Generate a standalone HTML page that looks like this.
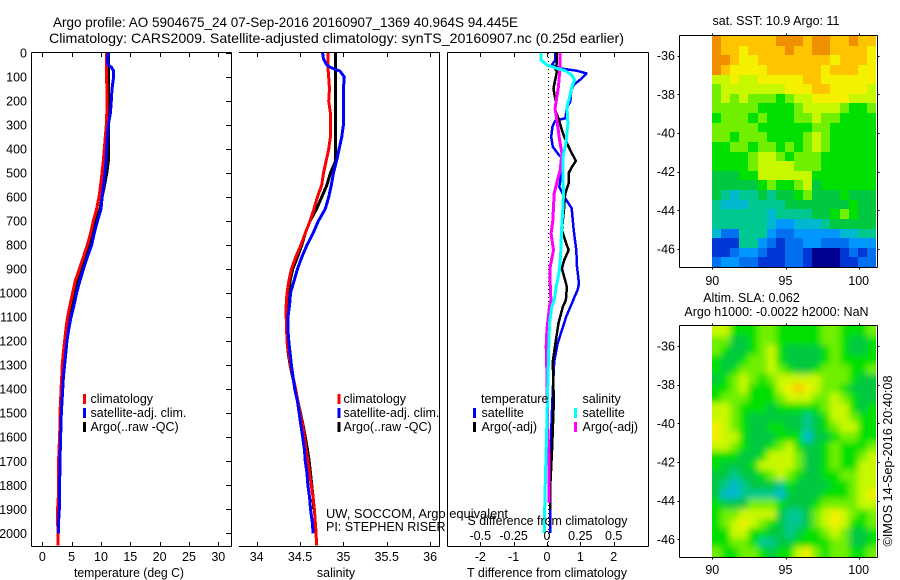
<!DOCTYPE html>
<html lang="en">
<head>
<meta charset="utf-8">
<title>Argo profile 5904675_24</title>
<style>
html,body{margin:0;padding:0;background:#fff;}
svg{display:block;}
text{font-family:"Liberation Sans",sans-serif;font-size:12.5px;fill:#000;}
.title{font-size:14px;}
</style>
</head>
<body>
<svg id="chart" xmlns="http://www.w3.org/2000/svg" width="900" height="580" viewBox="0 0 900 580">
  <defs>
    <clipPath id="clip-p1"><rect x="31" y="52" width="201" height="495"/></clipPath>
    <clipPath id="clip-p2"><rect x="239" y="52" width="201" height="495"/></clipPath>
    <clipPath id="clip-p3"><rect x="447" y="52" width="202" height="495"/></clipPath>
    <clipPath id="clip-sla"><rect x="712" y="326" width="164" height="231"/></clipPath>
    <filter id="sla-blur" filterUnits="userSpaceOnUse" x="660" y="280" width="270" height="330">
      <feGaussianBlur stdDeviation="3.2"/>
    </filter>
  </defs>
  <rect x="0" y="0" width="900" height="580" fill="#fff"/>
  <g id="heatmaps"></g>
  <g id="marks"></g>
  <g id="axes"></g>

  <text class="title" x="53" y="27" textLength="465" lengthAdjust="spacingAndGlyphs">Argo profile: AO 5904675_24 07-Sep-2016 20160907_1369 40.964S 94.445E</text>
  <text class="title" x="49" y="43" textLength="575" lengthAdjust="spacingAndGlyphs">Climatology: CARS2009. Satellite-adjusted climatology: synTS_20160907.nc (0.25d earlier)</text>

  <text x="74" y="577" textLength="110" lengthAdjust="spacingAndGlyphs">temperature (deg C)</text>
  <text x="336" y="577" text-anchor="middle">salinity</text>
  <text x="467" y="577" textLength="160" lengthAdjust="spacingAndGlyphs">T difference from climatology</text>
  <text x="467.5" y="525" textLength="160" lengthAdjust="spacingAndGlyphs">S difference from climatology</text>

  <g>
    <rect x="83" y="394" width="3" height="10" fill="#ff0000"/>
    <rect x="83" y="408" width="3" height="10" fill="#0000ff"/>
    <rect x="83" y="422" width="3" height="10" fill="#000000"/>
    <text x="90.5" y="403">climatology</text>
    <text x="90.5" y="417">satellite-adj. clim.</text>
    <text x="90.5" y="431">Argo(..raw -QC)</text>
  </g>
  <g>
    <rect x="337.5" y="394" width="3" height="10" fill="#ff0000"/>
    <rect x="337.5" y="408" width="3" height="10" fill="#0000ff"/>
    <rect x="337.5" y="422" width="3" height="10" fill="#000000"/>
    <text x="343.5" y="403">climatology</text>
    <text x="343.5" y="417">satellite-adj. clim.</text>
    <text x="343.5" y="431">Argo(..raw -QC)</text>
  </g>
  <g>
    <text x="481" y="403">temperature</text>
    <rect x="473" y="408" width="3" height="10" fill="#0000ff"/>
    <rect x="473" y="422" width="3" height="10" fill="#000000"/>
    <text x="481.5" y="417">satellite</text>
    <text x="481.5" y="431">Argo(-adj)</text>
    <text x="582.5" y="403">salinity</text>
    <rect x="574" y="408" width="3" height="10" fill="#00ffff"/>
    <rect x="574" y="422" width="3" height="10" fill="#ff00ff"/>
    <text x="582.5" y="417">satellite</text>
    <text x="582.5" y="431">Argo(-adj)</text>
  </g>

  <text x="326" y="518" textLength="182" lengthAdjust="spacingAndGlyphs">UW, SOCCOM, Argo equivalent</text>
  <text x="326" y="531">PI: STEPHEN RISER</text>

  <text x="776" y="25" text-anchor="middle">sat. SST: 10.9 Argo: 11</text>
  <text x="751.5" y="302" text-anchor="middle">Altim. SLA: 0.062</text>
  <text x="776.5" y="316" text-anchor="middle">Argo h1000: -0.0022 h2000: NaN</text>
  <text transform="translate(892,546.5) rotate(-90)" textLength="171" lengthAdjust="spacingAndGlyphs">©IMOS 14-Sep-2016 20:40:08</text>
</svg>

<script>
// ---------- profile data ----------
const depths = [0,25,50,60,75,100,150,200,250,300,350,400,450,500,550,600,650,700,750,800,850,900,950,1000,1050,1100,1150,1200,1250,1300,1350,1400,1450,1500,1550,1600,1650,1700,1750,1800,1850,1900,1950,2000,2050];

const tempArgo = [11.25,11.25,11.25,11.25,11.25,11.25,11.25,11.25,11.25,11.25,11.28,11.3,11.25,11,10.6,10.2,9.83,9.1,8.5,8,7.3,6.6,6,5.5,5.06,4.6,4.26,4.03,3.75,3.58,3.4,3.3,3.3,3.24,3.18,3.1,3,2.9,2.88,2.84,2.8,2.78];
const tempClim = [10.9,10.97,10.97,10.97,10.97,10.97,11,11,11,10.9,10.74,10.57,10.4,10.17,9.94,9.66,9.26,8.7,8.24,7.67,7,6.3,5.6,5.17,4.7,4.3,4.03,3.8,3.58,3.4,3.3,3.18,3.12,3,3,2.95,2.84,2.78,2.78,2.73,2.73,2.61,2.61,2.67,2.67];
const tempSat = [11.25,11.08,11.25,11.8,12.16,12.16,11.88,11.76,11.6,11.25,11.08,10.97,10.85,10.68,10.45,10.2,10,9.4,8.86,8.4,7.67,7,6.4,5.85,5.4,4.9,4.5,4.2,4,3.8,3.6,3.47,3.35,3.24,3.18,3.12,3.07,3,2.98,2.95,2.9,2.9,2.78,2.73];

const salArgo = [34.91,34.91,34.91,34.91,34.91,34.91,34.91,34.91,34.91,34.91,34.91,34.91,34.91,34.85,34.81,34.75,34.69,34.615,34.56,34.52,34.47,34.415,34.385,34.37,34.36,34.35,34.345,34.35,34.365,34.385,34.415,34.445,34.475,34.505,34.535,34.56,34.585,34.605,34.62,34.635,34.65,34.655];
const salClim = [34.82,34.82,34.82,34.82,34.825,34.83,34.84,34.83,34.85,34.85,34.85,34.83,34.8,34.77,34.75,34.7,34.66,34.615,34.56,34.51,34.45,34.4,34.37,34.35,34.34,34.34,34.345,34.35,34.37,34.39,34.42,34.45,34.475,34.5,34.53,34.55,34.57,34.59,34.61,34.63,34.65,34.665,34.675,34.685,34.69];
const salSat = [34.76,34.77,34.81,34.85,34.96,35.01,35,35,35,35,34.98,34.95,34.92,34.885,34.86,34.83,34.79,34.71,34.65,34.58,34.52,34.47,34.43,34.39,34.38,34.36,34.36,34.37,34.385,34.4,34.42,34.44,34.47,34.49,34.51,34.53,34.55,34.56,34.58,34.59,34.61,34.62,34.64,34.65];

const tSatDepths = [0,30,50,64,74,85,105,133,154,203,224,272,282,307,349,390,418,439,488,557,599,647,738,821,890,960,986,1014,1042,1097,1153,1208,1285,1403,1541,1680,1819,1999];
const tSatDiff = [0.245,0.245,0.145,0.4,0.9,1.18,1.05,0.8,0.73,0.7,0.6,0.55,0.245,0.165,0.125,0.175,0.32,0.45,0.45,0.37,0.52,0.74,0.8,0.88,0.9,0.96,0.92,0.83,0.75,0.58,0.45,0.32,0.215,0.175,0.135,0.105,0.095,0.095];

const tArgoDepths = [0,43,64,78,112,147,175,203,238,272,307,349,390,418,449,474,501,543,585,640,696,738,780,821,863,897,932,974,1029,1056,1125,1195,1285,1403,1486,1638,1800,1900];
const tArgoDiff = [0.296,0.296,0.246,0.296,0.246,0.195,0.226,0.266,0.246,0.346,0.416,0.516,0.647,0.747,0.867,0.747,0.647,0.647,0.546,0.516,0.476,0.446,0.546,0.647,0.516,0.446,0.516,0.596,0.566,0.476,0.346,0.266,0.175,0.195,0.195,0.155,0.1,0.095];

const sArgoDepths = [0,50,85,140,182,231,279,349,418,488,529,585,640,696,752,821,890,960,1029,1056,1153,1222,1333,1541,1680,1874];
const sArgoDiff = [0.099,0.099,0.094,0.086,0.074,0.061,0.074,0.091,0.112,0.099,0.079,0.054,0.049,0.044,0.031,0.049,0.024,0.024,0.029,0.019,-0.001,-0.006,-0.001,0.004,0.014,0.014];

const sSatDepths = [0,30,50,64,74,92,112,140,175,224,293,376,432,515,585,668,738,821,904,974,1029,1056,1125,1264,1430,1541,1652,1819,1999];
const sSatDiff = [-0.046,-0.044,0,0.074,0.137,0.187,0.207,0.187,0.174,0.149,0.157,0.142,0.119,0.119,0.124,0.117,0.109,0.104,0.094,0.069,0.054,0.036,0.019,0.011,0.004,-0.001,-0.006,-0.014,-0.021];

const zeroLineValue = [0.045];

// ---------- tick labels ----------
const depthTicks = [0,100,200,300,400,500,600,700,800,900,1000,1100,1200,1300,1400,1500,1600,1700,1800,1900,2000];
const tempTicks = [0,5,10,15,20,25,30];
const salTicks = [34,34.5,35,35.5,36];
const tDiffTicks = [-2,-1,0,1,2];
const sDiffTicks = [-0.5,-0.25,0,0.25,0.5];
const lonTicks = [90,95,100];
const latTicks = [-36,-38,-40,-42,-44,-46];

// ---------- map data: colour level per cell, north to south, west to east ----------
const sstRow00 = [12,11,11,11,11,11,11,12,12,12,11,12,12,11,11,12,11,11];
const sstRow01 = [12,11,11,10,11,11,11,11,12,11,11,12,12,11,11,11,11,10];
const sstRow02 = [12,12,11,10,10,11,11,11,11,11,11,11,11,10,11,11,11,10];
const sstRow03 = [12,11,10,10,10,10,11,11,11,11,11,11,10,11,11,11,10,10];
const sstRow04 = [9,9,10,9,9,10,10,10,10,10,11,11,10,10,10,10,10,10];
const sstRow05 = [8,9,9,9,9,9,9,9,10,10,10,11,11,10,10,10,10,9];
const sstRow06 = [8,9,8,9,8,8,8,7,8,9,9,10,10,10,10,9,9,9];
const sstRow07 = [8,8,8,8,8,7,7,7,7,8,9,9,9,9,8,7,7,8];
const sstRow08 = [7,8,8,8,7,8,7,7,7,8,8,9,8,8,7,7,7,7];
const sstRow09 = [8,8,8,8,8,7,7,7,7,7,7,8,8,7,7,7,7,7];
const sstRow10 = [8,8,7,8,8,8,7,7,7,7,8,9,8,7,7,7,7,7];
const sstRow11 = [7,7,8,8,7,8,8,7,8,7,8,9,8,7,7,7,7,7];
const sstRow12 = [7,7,7,7,8,9,9,8,7,8,8,8,7,7,7,7,7,7];
const sstRow13 = [7,7,7,7,8,9,9,9,9,8,8,8,7,7,7,7,7,7];
const sstRow14 = [6,6,6,7,7,9,9,9,9,9,9,7,7,7,7,7,7,7];
const sstRow15 = [6,6,6,6,6,7,8,7,7,8,9,6,7,7,7,7,7,7];
const sstRow16 = [6,5,4,5,5,6,5,6,6,7,8,6,6,6,7,6,6,6];
const sstRow17 = [5,4,4,4,5,5,5,5,6,6,6,6,6,6,6,7,6,6];
const sstRow18 = [5,5,5,5,5,5,4,5,5,5,5,6,6,7,8,7,6,6];
const sstRow19 = [5,5,5,5,5,5,4,3,3,4,4,4,5,6,6,6,6,6];
const sstRow20 = [4,2,2,5,5,5,3,2,2,3,3,3,3,3,4,4,5,5];
const sstRow21 = [1,1,1,5,5,3,2,1,2,2,3,3,2,2,2,3,3,3];
const sstRow22 = [1,1,2,3,3,2,1,1,2,2,1,0,0,0,1,2,1,2];
const sstRow23 = [2,3,3,2,2,1,1,1,2,2,1,0,0,0,1,1,2,2];
const sstGrid = [sstRow00,sstRow01,sstRow02,sstRow03,sstRow04,sstRow05,sstRow06,sstRow07,sstRow08,sstRow09,sstRow10,sstRow11,sstRow12,sstRow13,sstRow14,sstRow15,sstRow16,sstRow17,sstRow18,sstRow19,sstRow20,sstRow21,sstRow22,sstRow23];

const slaRow00 = [9,9,7,7,7,8,8,7,7,7,7,7,8,8,7,7,7,8];
const slaRow01 = [8,8,6,6,7,8,8,7,7,7,7,7,8,8,7,6,6,7];
const slaRow02 = [8,7,6,6,7,8,9,7,6,6,6,6,7,8,7,6,6,7];
const slaRow03 = [7,6,6,7,8,8,9,7,6,6,6,6,7,8,7,7,7,7];
const slaRow04 = [7,6,7,8,8,8,9,8,7,6,6,7,8,8,8,7,7,8];
const slaRow05 = [6,7,8,9,8,7,8,9,9,9,9,9,8,8,8,7,6,6];
const slaRow06 = [7,7,8,9,7,7,7,9,10,11,10,9,8,8,7,6,6,6];
const slaRow07 = [7,8,8,8,7,7,7,8,9,9,9,8,8,9,8,7,6,6];
const slaRow08 = [9,9,8,7,7,7,6,7,7,7,7,7,8,9,9,7,6,7];
const slaRow09 = [9,9,8,7,6,6,6,6,6,6,5,6,7,9,9,8,7,7];
const slaRow10 = [10,9,8,7,6,6,7,7,6,6,5,6,7,8,9,9,7,7];
const slaRow11 = [10,9,9,7,6,6,6,7,7,7,4,6,6,7,8,8,7,7];
const slaRow12 = [9,9,8,7,6,6,7,8,9,7,6,6,7,8,7,7,7,8];
const slaRow13 = [7,7,7,6,6,7,9,9,9,8,6,6,7,8,7,7,8,9];
const slaRow14 = [7,6,6,6,7,9,9,9,9,8,6,6,7,8,7,7,9,9];
const slaRow15 = [6,6,5,6,6,7,8,9,8,7,6,6,7,7,8,8,9,9];
const slaRow16 = [6,5,4,5,6,6,6,5,7,6,6,6,6,7,7,8,9,9];
const slaRow17 = [6,4,4,5,5,5,5,4,6,6,6,6,7,7,7,8,9,10];
const slaRow18 = [7,6,6,6,8,8,8,7,6,6,6,7,8,8,8,8,9,9];
const slaRow19 = [7,8,8,9,9,9,9,6,5,5,6,8,9,10,9,8,7,8];
const slaRow20 = [7,8,9,10,9,8,7,6,5,5,6,8,9,10,9,7,7,8];
const slaRow21 = [7,7,9,9,7,7,6,6,5,6,7,7,8,9,8,6,6,7];
const slaRow22 = [7,7,8,8,7,5,5,6,6,7,7,7,7,8,8,6,6,7];
const slaRow23 = [8,7,7,8,8,7,6,7,7,9,10,8,7,8,8,7,7,8];
const slaGrid = [slaRow00,slaRow01,slaRow02,slaRow03,slaRow04,slaRow05,slaRow06,slaRow07,slaRow08,slaRow09,slaRow10,slaRow11,slaRow12,slaRow13,slaRow14,slaRow15,slaRow16,slaRow17,slaRow18,slaRow19,slaRow20,slaRow21,slaRow22,slaRow23];

const colourLevels = ['#000090','#0038d8','#0070f0','#0098ff','#00b8d0','#00c890','#00c840','#00e000','#70f000','#c8f800','#f4f000','#ffc400','#f09000'];

// ---------- axis functions ----------
const yDepth = d => 53 + 0.24015 * d;
const xTemp = v => 42.3 + 5.867 * v;
const xSal = v => 256.7 + 86.7 * (v - 34);
const xTDiff = v => 547 + 33.35 * v;
const xSDiff = v => 547 + 133.4 * v;
const xLon = v => 712.3 + 14.64 * (v - 90);
const ySst = v => 55.7 + 19.33 * (-36 - v);
const ySla = v => 346 + 19.33 * (-36 - v);

const NS = 'http://www.w3.org/2000/svg';
function make(tag, attrs, parent, txt) {
  const el = document.createElementNS(NS, tag);
  for (const k in attrs) el.setAttribute(k, attrs[k]);
  if (txt !== undefined) el.textContent = txt;
  parent.appendChild(el);
  return el;
}
const axesG = document.getElementById('axes');
const marksG = document.getElementById('marks');
const mapsG = document.getElementById('heatmaps');

function axisLine(x1, y1, x2, y2, name) {
  const el = make('line', {x1, y1, x2, y2, stroke: '#000', 'stroke-width': 1, 'shape-rendering': 'crispEdges'}, axesG);
  
  
  return el;
}
function label(x, y, str, anchor, name) {
  const el = make('text', {x, y, 'text-anchor': anchor}, axesG, str);
  
  
  return el;
}

// panel frames
axisLine(31.5, 52.5, 231.5, 52.5, 'temperature-top-spine');
axisLine(31.5, 546.5, 231.5, 546.5, 'temperature-bottom-spine');
axisLine(31.5, 52.5, 31.5, 546.5, 'temperature-left-spine');
axisLine(231.5, 52.5, 231.5, 546.5, 'temperature-right-spine');
axisLine(239, 52.5, 439.5, 52.5, 'salinity-top-spine');
axisLine(239, 546.5, 439.5, 546.5, 'salinity-bottom-spine');
axisLine(439.5, 52.5, 439.5, 546.5, 'salinity-right-spine');
axisLine(447.5, 52.5, 648.5, 52.5, 'difference-top-spine');
axisLine(447.5, 546.5, 648.5, 546.5, 'difference-bottom-spine');
axisLine(447.5, 52.5, 447.5, 546.5, 'difference-left-spine');
axisLine(648.5, 52.5, 648.5, 546.5, 'difference-right-spine');

// depth axis
depthTicks.forEach(d => {
  const y = Math.round(yDepth(d)) + 0.5;
  axisLine(226, y, 231.5, y, 'depth-tick');
  label(27, yDepth(d) + 4.5, String(d), 'end', 'depth-tick-label');
});

function xTicks(values, scale, baseTick, name, fmt, labelY) {
  values.forEach(v => {
    const x = Math.round(scale(v)) + 0.5;
    axisLine(x, 52.5, x, 57, name + '-top-tick');
    axisLine(x, 542, x, 546.5, name + '-bottom-tick');
    label(scale(v), labelY, fmt(v), 'middle', name + '-tick-label');
  });
}
xTicks(tempTicks, xTemp, 0, 'temperature', String, 561);
xTicks(salTicks, xSal, 0, 'salinity', String, 561);
xTicks(tDiffTicks, xTDiff, 0, 't-difference', String, 561);
sDiffTicks.forEach(v => {
  label(xSDiff(v), 540, String(v), 'middle', 's-difference-tick-label');
});

// profile lines
function profile(depthArr, values, scale, colour, clip, width, name) {
  const pts = values.map((v, i) => scale(v).toFixed(1) + ',' + yDepth(depthArr[i]).toFixed(1)).join(' ');
  const el = make('polyline', {points: pts, fill: 'none', stroke: colour, 'stroke-width': width, 'stroke-linejoin': 'round', 'shape-rendering': 'crispEdges', 'clip-path': 'url(#' + clip + ')'}, marksG);
  
  
  return el;
}
profile(depths, tempArgo, xTemp, '#000000', 'clip-p1', 3, 'temperature-argo-line');
profile(depths, tempClim, xTemp, '#ff0000', 'clip-p1', 3, 'temperature-climatology-line');
profile(depths, tempSat, xTemp, '#0000ff', 'clip-p1', 3, 'temperature-satellite-line');
profile(depths, salArgo, xSal, '#000000', 'clip-p2', 3, 'salinity-argo-line');
profile(depths, salClim, xSal, '#ff0000', 'clip-p2', 3, 'salinity-climatology-line');
profile(depths, salSat, xSal, '#0000ff', 'clip-p2', 3, 'salinity-satellite-line');

const zeroLine = make('line', {x1: xTDiff(zeroLineValue[0]), y1: 53, x2: xTDiff(zeroLineValue[0]), y2: 546, stroke: '#000', 'stroke-width': 1, 'stroke-dasharray': '1 3', 'shape-rendering': 'crispEdges'}, marksG);



profile(tSatDepths, tSatDiff, xTDiff, '#0000ff', 'clip-p3', 2.5, 't-difference-satellite-line');
profile(tArgoDepths, tArgoDiff, xTDiff, '#000000', 'clip-p3', 2.5, 't-difference-argo-line');
profile(sArgoDepths, sArgoDiff, xSDiff, '#ff00ff', 'clip-p3', 3, 's-difference-argo-line');
profile(sSatDepths, sSatDiff, xSDiff, '#00ffff', 'clip-p3', 3, 's-difference-satellite-line');

// heatmaps
function heatmap(grid, parent, left, top, w, h, bleed, name) {
  const rows = grid.length;
  grid.forEach((row, r) => {
    const cols = row.length;
    row.forEach((v, c) => {
      let x0 = Math.round(left + w * c / cols), x1 = Math.round(left + w * (c + 1) / cols);
      let y0 = Math.round(top + h * r / rows), y1 = Math.round(top + h * (r + 1) / rows);
      if (c === 0) x0 -= bleed;
      if (c === cols - 1) x1 += bleed;
      if (r === 0) y0 -= bleed;
      if (r === rows - 1) y1 += bleed;
      const level = Math.max(0, Math.min(colourLevels.length - 1, Math.round(v)));
      const cell = make('rect', {x: x0, y: y0, width: x1 - x0, height: y1 - y0, fill: colourLevels[level], 'shape-rendering': 'crispEdges'}, parent);
      
      
    });
  });
}
heatmap(sstGrid, mapsG, 712, 36, 164, 231, 0, 'sst-cell');
const slaClip = make('g', {'clip-path': 'url(#clip-sla)'}, mapsG);


const slaBlur = make('g', {filter: 'url(#sla-blur)'}, slaClip);


heatmap(slaGrid, slaBlur, 712, 326, 164, 231, 24, 'sla-cell');

// map frames and ticks
function mapAxes(top, bottom, yScale, name, lonLabelY) {
  axisLine(679.5, top, 877.5, top, name + '-top-spine');
  axisLine(679.5, bottom, 877.5, bottom, name + '-bottom-spine');
  axisLine(679.5, top, 679.5, bottom, name + '-left-spine');
  axisLine(877.5, top, 877.5, bottom, name + '-right-spine');
  lonTicks.forEach(v => {
    const x = Math.round(xLon(v)) + 0.5;
    axisLine(x, top - 2, x, top, name + '-top-tick');
    axisLine(x, bottom, x, bottom + 2, name + '-bottom-tick');
    label(xLon(v), lonLabelY, String(v), 'middle', name + '-lon-label');
  });
  latTicks.forEach(v => {
    const y = Math.round(yScale(v)) + 0.5;
    axisLine(677.5, y, 679.5, y, name + '-left-tick');
    axisLine(877.5, y, 879.5, y, name + '-right-tick');
    label(675, yScale(v) + 4.5, String(v), 'end', name + '-lat-label');
  });
}
mapAxes(35.5, 267.5, ySst, 'sst-map', 285);
mapAxes(325.5, 557.5, ySla, 'sla-map', 574);
</script>
</body>
</html>
